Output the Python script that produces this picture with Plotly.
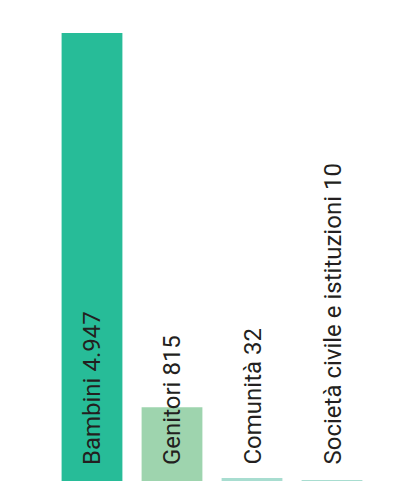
import plotly.graph_objects as go

categories = ["Bambini", "Genitori", "Comunità", "Società civile e istituzioni"]
values = [4947, 815, 32, 10]
value_labels = ["4.947", "815", "32", "10"]
colors = ["#27BC98", "#9ED4AE", "#A8DDD0", "#A8DDD0"]

fig = go.Figure()
fig.add_trace(go.Bar(
    x=categories, y=values,
    marker=dict(color=colors, line=dict(width=0)),
    hoverinfo="skip",
))

H_PLOT = 473 - 25
for cat, lab in zip(categories, value_labels):
    fig.add_annotation(
        x=cat, xref="x", y=14 / H_PLOT, yref="paper",
        text=f"{cat} {lab}", textangle=-90,
        xanchor="center", yanchor="bottom", showarrow=False,
        font=dict(family="Roboto, sans-serif", size=24, color="#231F20"),
    )

fig.update_layout(
    width=411, height=473,
    margin=dict(l=44, r=47, t=25, b=0),
    paper_bgcolor="white", plot_bgcolor="white",
    bargap=0.24, showlegend=False,
    xaxis=dict(visible=False),
    yaxis=dict(visible=False, range=[0, 4947]),
)
fig.write_html("out.html")
